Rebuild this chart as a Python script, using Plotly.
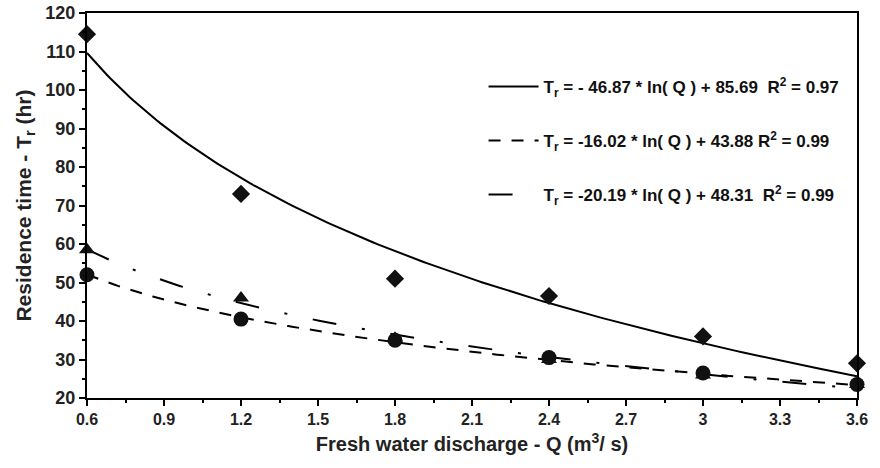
import numpy as np
import plotly.graph_objects as go

# Data
discharge = [0.6, 1.2, 1.8, 2.4, 3.0, 3.6]
tr_diamond = [114.5, 73.0, 51.0, 46.5, 36.0, 29.0]
tr_triangle = [58.5, 46.0, 35.5, 30.0, 26.0, 23.5]
tr_circle = [52.0, 40.5, 35.0, 30.5, 26.5, 23.5]

# Logarithmic fits printed in the legend: Tr = a*ln(Q) + b
fit_slopes = [-46.87, -16.02, -20.19]
fit_intercepts = [85.69, 43.88, 48.31]
fit_labels = [
    "T<sub>r</sub> = - 46.87 * ln( Q ) + 85.69  R<sup>2</sup> = 0.97",
    "T<sub>r</sub> = -16.02 * ln( Q ) + 43.88 R<sup>2</sup> = 0.99",
    "T<sub>r</sub> = -20.19 * ln( Q ) + 48.31  R<sup>2</sup> = 0.99",
]
x_ticks = [0.6, 0.9, 1.2, 1.5, 1.8, 2.1, 2.4, 2.7, 3.0, 3.3, 3.6]
x_tick_text = ["0.6", "0.9", "1.2", "1.5", "1.8", "2.1", "2.4", "2.7", "3", "3.3", "3.6"]

fit_dashes = ["solid", "12px,11px", "24px,26px,3px,26px"]

q_grid = np.linspace(min(discharge), max(discharge), 200)

fig = go.Figure()
for i in range(3):
    fig.add_trace(go.Scatter(
        x=q_grid, y=fit_slopes[i] * np.log(q_grid) + fit_intercepts[i],
        mode="lines", name=fit_labels[i], legendgroup=f"g{i}",
        line=dict(color="black", width=2, dash=fit_dashes[i]),
        cliponaxis=False,
    ))

marker_series = [(tr_diamond, "diamond", 14), (tr_triangle, "triangle-up", 14), (tr_circle, "circle", 15)]
for ys, sym, sz in marker_series:
    fig.add_trace(go.Scatter(
        x=discharge, y=ys, mode="markers", showlegend=False,
        marker=dict(symbol=sym, size=sz, color="#111111"),
        cliponaxis=False,
    ))

fig.update_layout(
    width=880, height=468,
    margin=dict(l=87, r=23, t=13, b=70),
    plot_bgcolor="white", paper_bgcolor="white",
    font=dict(family="Liberation Sans, Arial", color="#111"),
    showlegend=True,
    legend=dict(
        x=0.515, y=0.855, xanchor="left", yanchor="top",
        bgcolor="rgba(0,0,0,0)", tracegroupgap=29, itemwidth=50,
        font=dict(family="Liberation Sans, Arial", size=17, color="#111", weight="bold"),
    ),
    xaxis=dict(
        range=[0.6, 3.6], tickvals=x_ticks, ticktext=x_tick_text,
        showgrid=False, zeroline=False, automargin=False,
        showline=True, linecolor="black", linewidth=2, mirror=True,
        ticks="outside", ticklen=6, tickwidth=2, tickcolor="black",
        minor=dict(dtick=0.15, tick0=0.6, ticks="outside", ticklen=3, tickwidth=2, tickcolor="black"),
        tickfont=dict(family="Liberation Sans, Arial", size=16, color="#222", weight="bold"),
        title=dict(text="Fresh water discharge - Q (m<sup>3</sup>/ s)", standoff=10,
                   font=dict(family="Liberation Sans, Arial", size=20, color="#222", weight="bold")),
    ),
    yaxis=dict(
        range=[20, 120], dtick=10, tick0=20,
        showgrid=False, zeroline=False, automargin=False,
        showline=True, linecolor="black", linewidth=2, mirror=True,
        ticks="outside", ticklen=6, tickwidth=2, tickcolor="black",
        minor=dict(dtick=5, tick0=20, ticks="outside", ticklen=3, tickwidth=2, tickcolor="black"),
        tickfont=dict(family="Liberation Sans, Arial", size=18, color="#222", weight="bold"),
        title=dict(text="Residence time - T<sub>r</sub> (hr)", standoff=8,
                   font=dict(family="Liberation Sans, Arial", size=21, color="#222", weight="bold")),
    ),
)

fig.write_html("out.html", config={"displayModeBar": False},
               post_script="document.body.style.margin='0';")
